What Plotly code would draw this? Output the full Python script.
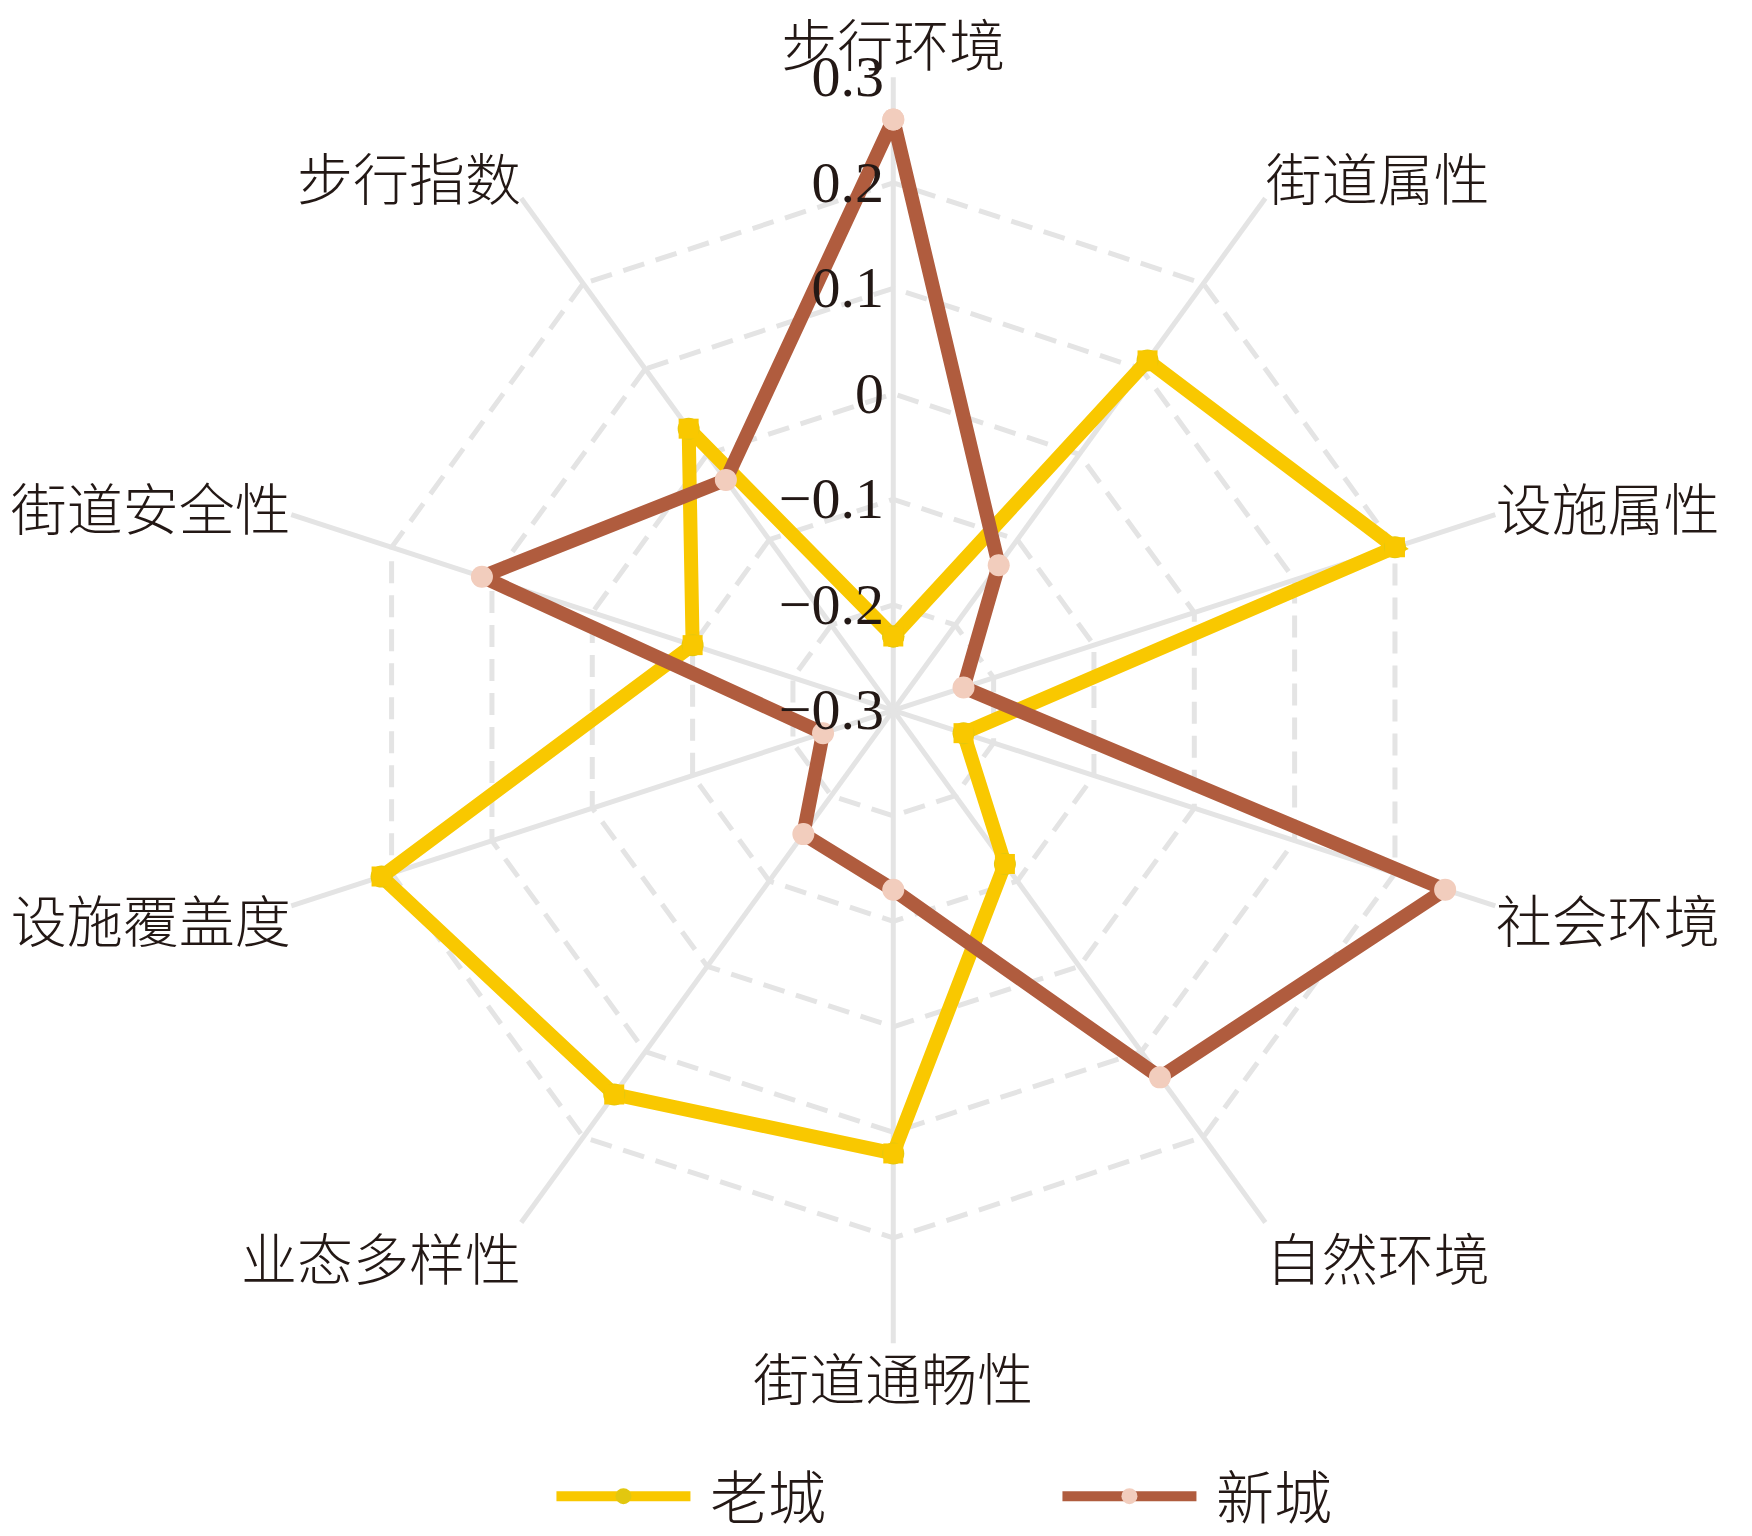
import plotly.graph_objects as go

categories = ["步行环境", "街道属性", "设施属性", "社会环境", "自然环境",
              "街道通畅性", "业态多样性", "设施覆盖度", "街道安全性", "步行指数"]
old_city = [-0.23, 0.11, 0.20, -0.23, -0.12, 0.12, 0.15, 0.21, -0.10, 0.03]
new_city = [0.26, -0.13, -0.23, 0.25, 0.13, -0.13, -0.155, -0.23, 0.11, -0.03]
radial_ticks = [-0.3, -0.2, -0.1, 0, 0.1, 0.2, 0.3]
radial_labels = ["−0.3", "−0.2", "−0.1", "0", "0.1", "0.2", "0.3"]

yellow = "#F9C800"
brown = "#B05C3E"
peach = "#F2CDBD"
grid = "#E4E4E4"
text_col = "#231815"
font_fam = "Liberation Serif, Noto Sans CJK SC"

fig = go.Figure()
fig.add_trace(go.Scatterpolar(
    r=old_city + old_city[:1], theta=categories + categories[:1],
    name=" 老城", mode="lines+markers", cliponaxis=True,
    line=dict(color=yellow, width=14),
    marker=dict(color="#E2C70F", size=22),
))
fig.add_trace(go.Scatterpolar(
    r=new_city + new_city[:1], theta=categories + categories[:1],
    name=" 新城", mode="lines+markers", cliponaxis=True,
    line=dict(color=brown, width=14),
    marker=dict(color=peach, size=22),
))
# vertex markers drawn on top of the lines
fig.add_trace(go.Scatterpolar(
    r=old_city, theta=categories, mode="markers", showlegend=False, cliponaxis=True,
    marker=dict(color=yellow, size=20, symbol="square"), hoverinfo="skip",
))
fig.add_trace(go.Scatterpolar(
    r=new_city, theta=categories, mode="markers", showlegend=False, cliponaxis=True,
    marker=dict(color=peach, size=21, symbol="circle"), hoverinfo="skip",
))

fig.update_layout(
    width=1752, height=1536,
    paper_bgcolor="white",
    margin=dict(l=0, r=0, t=0, b=0, autoexpand=False),
    font=dict(family=font_fam, color=text_col, size=58, weight=300),
    polar=dict(
        domain=dict(x=[0.144, 0.8666], y=[0.1305, 0.955]),
        bgcolor="white",
        gridshape="linear",
        angularaxis=dict(
            direction="clockwise", rotation=90,
            showline=False, ticks="",
            gridcolor=grid, gridwidth=5,
            tickfont=dict(size=56, family=font_fam, color=text_col, weight=300),
        ),
        radialaxis=dict(
            range=[-0.3, 0.3], tickvals=radial_ticks, ticktext=radial_labels,
            angle=90, tickangle=90, side="counterclockwise",
            showline=False, ticks="",
            gridcolor=grid, gridwidth=5, griddash="22px,12px",
            tickfont=dict(size=58, family=font_fam, color=text_col),
        ),
    ),
    showlegend=True,
    legend=dict(
        orientation="h", x=0.599, xanchor="center", y=0.002, yanchor="bottom",
        itemwidth=134, entrywidth=357,
        font=dict(size=58, family=font_fam, color=text_col, weight=300),
    ),
)

fig.write_html("out.html")
